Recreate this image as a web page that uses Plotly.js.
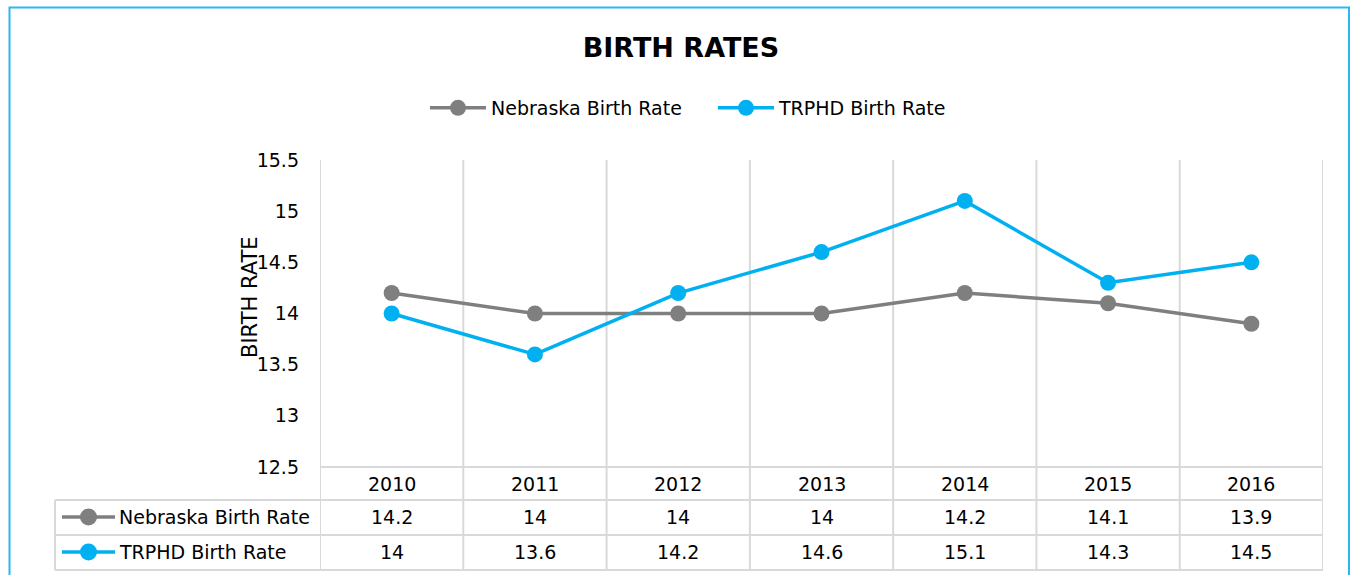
<!DOCTYPE html>
<html>
<head>
<meta charset="utf-8">
<script src="https://cdn.plot.ly/plotly-3.0.1.min.js"></script>
<style>html,body{margin:0;padding:0;background:#fff;}#chart{width:1353px;height:575px;}</style>
</head>
<body>
<div id="chart"></div>
<script>
const categories = ['2010','2011','2012','2013','2014','2015','2016'];
const nebraskaRate = [14.2, 14, 14, 14, 14.2, 14.1, 13.9];
const trphdRate = [14, 13.6, 14.2, 14.6, 15.1, 14.3, 14.5];
const seriesNames = ['Nebraska Birth Rate', 'TRPHD Birth Rate'];
const yTickValues = [12.5, 13, 13.5, 14, 14.5, 15, 15.5];

const W = 1353, H = 575, L = 320, R = 30, T = 160, B = 108;
const PW = W - L - R, PH = H - T - B;
const px = x => (x - L) / PW;
const py = y => (H - B - y) / PH;

const FONT = '"DejaVu Sans", sans-serif';
const GREY = '#7F7F7F', BLUE = '#00B0F0', GRID = '#D9D9D9';

const traces = [
  {x: categories, y: nebraskaRate, name: seriesNames[0], type: 'scatter', mode: 'lines+markers',
   line: {color: GREY, width: 3.5}, marker: {color: GREY, size: 16}},
  {x: categories, y: trphdRate, name: seriesNames[1], type: 'scatter', mode: 'lines+markers',
   line: {color: BLUE, width: 3.5}, marker: {color: BLUE, size: 16}}
];

const shapes = [];
const annotations = [];
// vertical category boundaries
for (let i = 0; i <= categories.length; i++) {
  shapes.push({type: 'line', xref: 'x', yref: 'paper', x0: i - 0.5, x1: i - 0.5,
    y0: 1, y1: py(570), line: {color: GRID, width: 2}, layer: 'below'});
}
// horizontal lines
shapes.push({type: 'line', xref: 'x', yref: 'paper', x0: -0.5, x1: categories.length - 0.5,
  y0: 0, y1: 0, line: {color: GRID, width: 2}, layer: 'below'});
[500, 535, 570].forEach(yy => {
  shapes.push({type: 'line', xref: 'paper', yref: 'paper', x0: px(55), x1: 1,
    y0: py(yy), y1: py(yy), line: {color: GRID, width: 2}, layer: 'below'});
});
shapes.push({type: 'line', xref: 'paper', yref: 'paper', x0: px(55), x1: px(55),
  y0: py(500), y1: py(570), line: {color: GRID, width: 2}, layer: 'below'});

// year row
categories.forEach((c, i) => {
  annotations.push({xref: 'x', yref: 'paper', x: i, y: py(484), text: c, showarrow: false,
    xanchor: 'center', yanchor: 'middle', font: {family: FONT, size: 19, color: '#000'}});
});
// series rows
const seriesData = [nebraskaRate, trphdRate];
const seriesColors = [GREY, BLUE];
[517, 552].forEach((cy, r) => {
  seriesData[r].forEach((v, i) => {
    annotations.push({xref: 'x', yref: 'paper', x: i, y: py(cy), text: String(v),
      showarrow: false, xanchor: 'center', yanchor: 'middle',
      font: {family: FONT, size: 19, color: '#000'}});
  });
  annotations.push({xref: 'paper', yref: 'paper', x: px(117), y: py(cy), text: seriesNames[r],
    showarrow: false, xanchor: 'left', yanchor: 'middle',
    font: {family: FONT, size: 19, color: '#000'}});
  shapes.push({type: 'line', xref: 'paper', yref: 'paper', x0: px(62), x1: px(115),
    y0: py(cy), y1: py(cy), line: {color: seriesColors[r], width: 3.5}});
  shapes.push({type: 'circle', xref: 'paper', yref: 'paper', x0: px(80), x1: px(97),
    y0: py(cy + 8.5), y1: py(cy - 8.5), fillcolor: seriesColors[r], line: {width: 0}});
});

// y axis title
annotations.push({xref: 'paper', yref: 'paper', x: px(250), y: py(297), text: 'BIRTH RATE',
  textangle: -90, showarrow: false, xanchor: 'center', yanchor: 'middle',
  font: {family: FONT, size: 21, color: '#000'}});

// outer border
shapes.push({type: 'rect', xref: 'paper', yref: 'paper', x0: px(9.5), x1: px(1349),
  y0: py(7.5), y1: py(590), line: {color: '#2DB7EF', width: 2}, fillcolor: 'rgba(0,0,0,0)'});

const layout = {
  width: W, height: H,
  margin: {l: L, r: R, t: T, b: B, pad: 0},
  paper_bgcolor: '#fff', plot_bgcolor: 'rgba(0,0,0,0)',
  title: {text: '<b>BIRTH RATES</b>', x: 681 / W, xanchor: 'center', xref: 'container',
    y: 1 - 48 / H, yanchor: 'middle', yref: 'container',
    font: {family: FONT, size: 27, color: '#000'}},
  showlegend: true,
  legend: {orientation: 'h', x: px(425), xanchor: 'left', y: py(108), yanchor: 'middle',
    font: {family: FONT, size: 19, color: '#000'}, itemwidth: 56, tracegroupgap: 0,
    entrywidth: 217, entrywidthmode: 'pixels'},
  xaxis: {type: 'category', categoryorder: 'array', categoryarray: categories,
    range: [-0.5, categories.length - 0.5], showgrid: false, zeroline: false,
    showticklabels: false, ticks: '', showline: false, fixedrange: true},
  yaxis: {range: [12.5, 15.5], tickvals: yTickValues, ticktext: yTickValues.map(String),
    showgrid: false, zeroline: false, showline: false, ticks: '',
    ticklabelstandoff: 20,
    tickfont: {family: FONT, size: 19, color: '#000'}, fixedrange: true},
  shapes: shapes,
  annotations: annotations
};

Plotly.newPlot('chart', traces, layout, {displayModeBar: false, responsive: false});
</script>
</body>
</html>
